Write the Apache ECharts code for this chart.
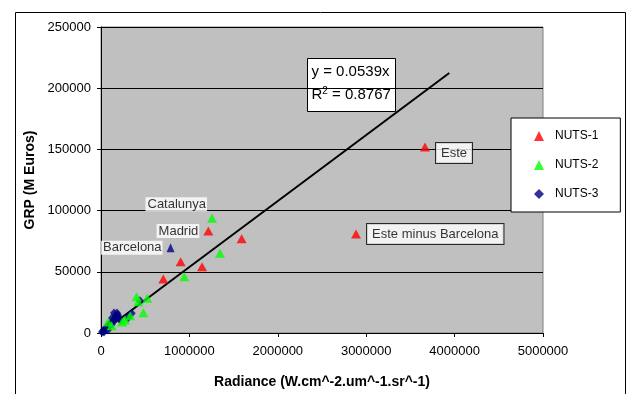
<!DOCTYPE html>
<html>
<head>
<meta charset="utf-8">
<script src="https://cdn.jsdelivr.net/npm/echarts@6/dist/echarts.min.js"></script>
<style>
  html, body { margin: 0; padding: 0; background: #fff; }
  #main { width: 627px; height: 394px; }
</style>
</head>
<body>
<div id="main"></div>
<script>
// NUTS-1 regions (red triangles)
var nuts1X = [3665000, 2885000, 1214000, 1591000, 901000, 1143000, 705000];
var nuts1Y = [152000, 80900, 83300, 77000, 58300, 54200, 44100];
var nuts1Names = ['Este', 'Este minus Barcelona', 'Madrid', '', '', '', ''];

// NUTS-2 regions (green triangles)
var nuts2X = [1256000, 1346000, 943000, 403000, 422000, 524000, 479000, 271000, 240000, 330000, 120000, 80000];
var nuts2Y = [93700, 65100, 46000, 29700, 25600, 28400, 16600, 10600, 9000, 14000, 6000, 9000];
var nuts2Names = ['Catalunya', '', '', '', '', '', '', '', '', '', '', ''];

// NUTS-3 provinces (navy diamonds)
var nuts3X = [787000, 441000, 347000, 305000, 215000, 204000, 192000, 181000, 170000, 158000, 147000, 147000,
  136000, 124000, 124000, 113000, 102000, 90000, 79000, 79000, 68000, 57000, 45000, 34000, 34000, 23000, 11000];
var nuts3Y = [69700, 26400, 16100, 12300, 10600, 12300, 14700, 16300, 13900, 12300, 10600, 16300,
  9800, 7400, 12300, 8200, 6500, 6500, 4900, 2500, 4900, 3700, 3300, 2500, 800, 1600, 800];
var nuts3Names = ['Barcelona'];

// linear trend line through origin
var trendX = [0, 3940000];
var trendY = [0, 212400];

var xTicks = [0, 1000000, 2000000, 3000000, 4000000, 5000000];
var yTicks = [0, 50000, 100000, 150000, 200000, 250000];

var FONT = '"Liberation Sans", Arial, sans-serif';

function pointLabel(name) {
  if (name === 'Este' || name === 'Este minus Barcelona') {
    return {
      show: true, position: 'right', distance: 6, formatter: name,
      backgroundColor: '#fff', borderColor: '#000', borderWidth: 1,
      padding: [4, 5, 3, 5], color: '#000', fontSize: 13, fontFamily: FONT,
      offset: [0, name === 'Este' ? 6 : 0]
    };
  }
  return {
    show: true, position: 'left', distance: 4, formatter: name,
    backgroundColor: '#fff', padding: [1, 1, 0, 2], color: '#000',
    fontSize: 13, fontFamily: FONT,
    offset: name === 'Catalunya' ? [4, -14] : [0, 0]
  };
}

function build(xs, ys, names) {
  var out = [];
  for (var i = 0; i < xs.length; i++) {
    var item = { value: [xs[i], ys[i]] };
    var nm = names[i];
    if (nm) {
      item.name = nm;
      item.label = pointLabel(nm);
      if (nm === 'Barcelona') item.symbol = 'triangle';
    }
    out.push(item);
  }
  return out;
}

var trendData = [];
for (var i = 0; i < trendX.length; i++) trendData.push([trendX[i], trendY[i]]);

var chart = echarts.init(document.getElementById('main'), null, { renderer: 'canvas' });

var option = {
  backgroundColor: '#fff',
  animation: false,
  textStyle: { fontFamily: FONT },
  grid: {
    left: 101, right: 84, top: 27, bottom: 61,
    show: true, backgroundColor: '#c0c0c0', borderColor: '#808080', borderWidth: 1
  },
  legend: {
    left: 511, top: 118, orient: 'vertical',
    backgroundColor: '#fff', borderColor: '#000', borderWidth: 1,
    padding: [12, 22, 12, 23], itemGap: 17,
    itemWidth: 10, itemHeight: 10,
    textStyle: { fontSize: 12, color: '#000', fontFamily: FONT, padding: [0, 0, 0, 6] },
    data: ['NUTS-1', 'NUTS-2', 'NUTS-3']
  },
  xAxis: {
    type: 'value', min: 0, max: 5000000, interval: 1000000,
    name: 'Radiance (W.cm^-2.um^-1.sr^-1)', nameLocation: 'middle', nameGap: 42,
    nameTextStyle: { fontSize: 14, fontWeight: 'bold', color: '#000', fontFamily: FONT },
    axisLine: { show: true, onZero: false, lineStyle: { color: '#000', width: 1 } },
    axisTick: { show: true, inside: false, length: 4, lineStyle: { color: '#000' } },
    axisLabel: {
      fontSize: 13, color: '#000', margin: 12, fontFamily: FONT,
      formatter: function (v) { return xTicks.indexOf(v) >= 0 ? String(v) : ''; }
    },
    splitLine: { show: false }
  },
  yAxis: {
    type: 'value', min: 0, max: 250000, interval: 50000,
    name: 'GRP (M Euros)', nameLocation: 'middle', nameGap: 56, nameRotate: 90,
    nameTextStyle: { fontSize: 14, fontWeight: 'bold', color: '#000', fontFamily: FONT },
    axisLine: { show: true, onZero: false, lineStyle: { color: '#000', width: 1 } },
    axisTick: { show: true, inside: false, length: 4, lineStyle: { color: '#000' } },
    axisLabel: {
      fontSize: 13, color: '#000', margin: 10, fontFamily: FONT,
      formatter: function (v) { return yTicks.indexOf(v) >= 0 ? String(v) : ''; }
    },
    splitLine: { show: true, lineStyle: { color: '#000', width: 1 } }
  },
  series: [
    {
      name: 'trend', type: 'line', data: trendData, symbol: 'none', z: 3,
      lineStyle: { color: '#000', width: 2 }, silent: true, legendHoverLink: false
    },
    {
      name: 'NUTS-3', type: 'scatter', symbol: 'diamond', symbolSize: [8, 9], z: 4,
      itemStyle: { color: '#000080' },
      data: build(nuts3X, nuts3Y, nuts3Names)
    },
    {
      name: 'NUTS-2', type: 'scatter', symbol: 'triangle', symbolSize: [10, 9], z: 5,
      itemStyle: { color: '#00ff00' },
      data: build(nuts2X, nuts2Y, nuts2Names)
    },
    {
      name: 'NUTS-1', type: 'scatter', symbol: 'triangle', symbolSize: [10, 9], z: 6,
      itemStyle: { color: '#ff0000' },
      data: build(nuts1X, nuts1Y, nuts1Names)
    }
  ],
  graphic: [
    {
      type: 'rect', left: 13, top: 10, z: -1, silent: true,
      shape: { width: 610, height: 400 },
      style: { fill: 'none', stroke: '#000', lineWidth: 1 }
    },
    {
      type: 'group', left: 307, top: 58, z: 100,
      children: [
        {
          type: 'rect', shape: { x: 0, y: 0, width: 88, height: 53 },
          style: { fill: '#fff', stroke: '#000', lineWidth: 1 }
        },
        {
          type: 'text', x: 4, y: 6,
          style: { text: 'y = 0.0539x', fontSize: 15, fontFamily: FONT, fill: '#000' }
        },
        {
          type: 'text', x: 4, y: 28,
          style: {
            text: 'R{s|2} = 0.8767', fontSize: 15, fontFamily: FONT, fill: '#000',
            rich: { s: { fontSize: 10, verticalAlign: 'top', padding: [0, 0, 6, 0], fontFamily: FONT } }
          }
        }
      ]
    }
  ]
};

chart.setOption(option);
</script>
</body>
</html>
